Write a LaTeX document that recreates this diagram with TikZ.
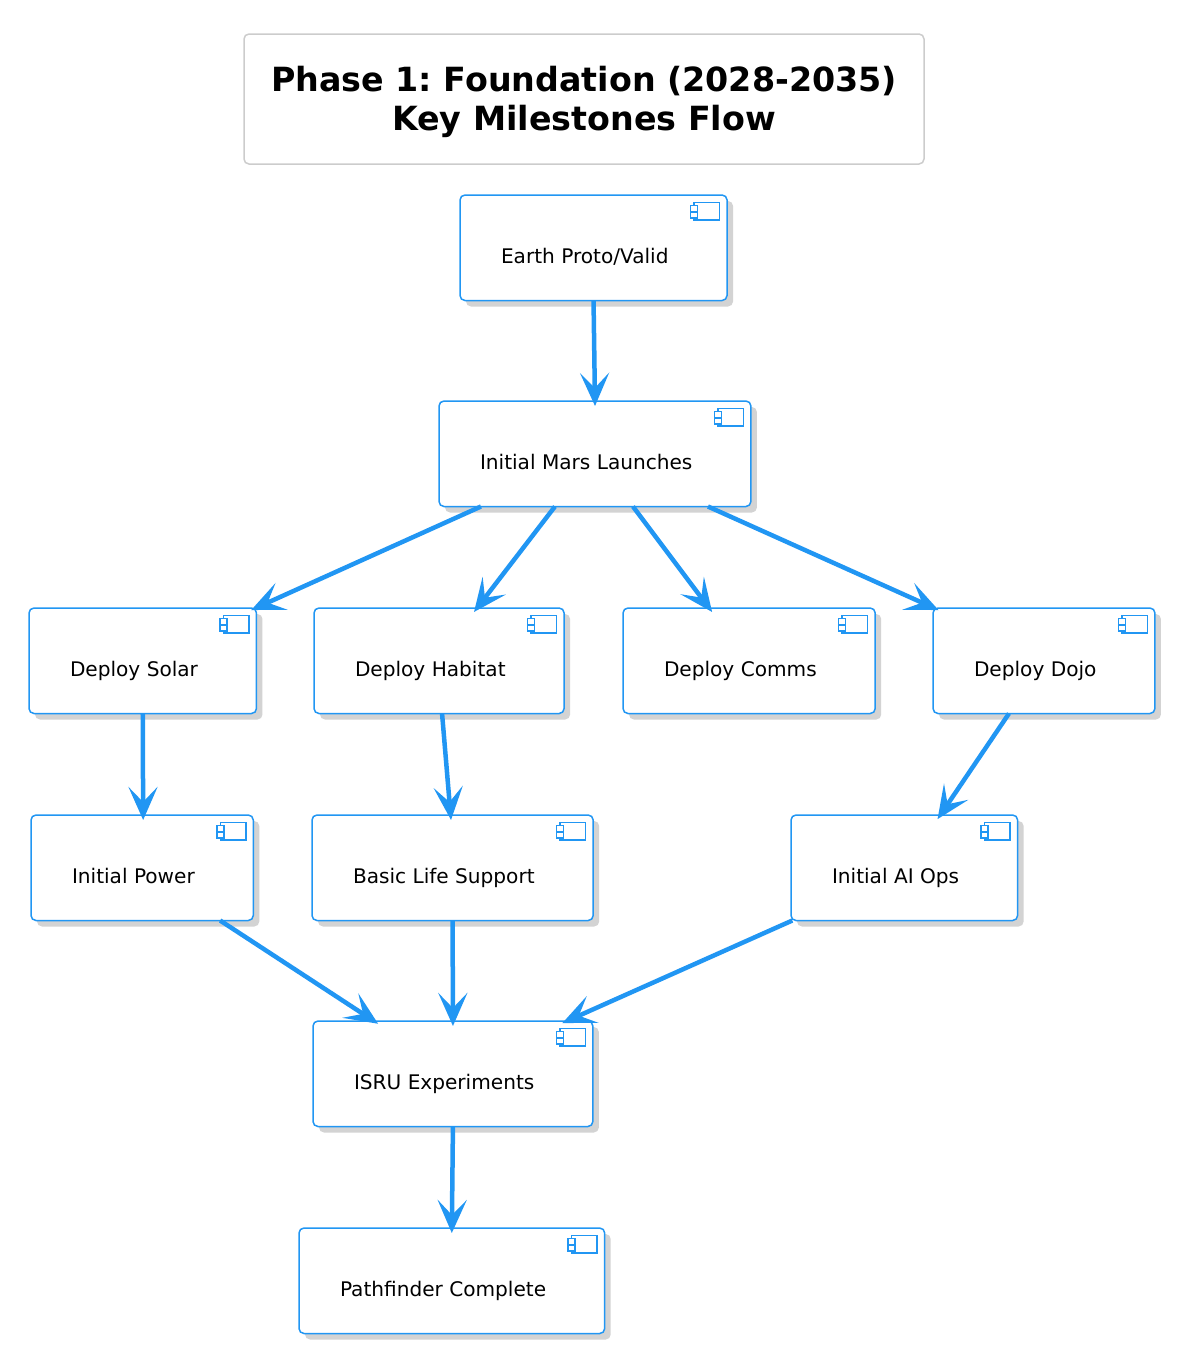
\documentclass[tikz,border=0pt]{standalone}
\usepackage{fontspec}
\setmainfont{DejaVu Sans}
\usetikzlibrary{arrows.meta,shadows}
\frenchspacing

\definecolor{compblue}{HTML}{2196F3}
\definecolor{compshadow}{HTML}{D3D3D3}
\definecolor{titleline}{HTML}{CCCCCC}

\tikzset{
	comp/.style={draw=compblue, line width=1.5pt, fill=white, rounded corners=5pt, anchor=north west, outer sep=0pt,
		inner xsep=41pt, inner ysep=10pt, text height=58pt, text depth=27.5pt,
		font=\fontsize{20.1}{24}\selectfont, execute at end node={\hspace{17.5pt}},
		drop shadow={shadow xshift=6pt, shadow yshift=-6pt, fill=compshadow, opacity=1}},
	flow/.style={draw=compblue, line width=4.5pt, -{Stealth[length=33pt, width=29pt, inset=15pt]}, shorten >=-5pt},
	compicon/.pic={
		\draw[compblue, line width=1.5pt, fill=white] (-33,7.5) rectangle (-7.5,25);
		\draw[compblue, line width=1.5pt, fill=white] (-36.5,10.5) rectangle (-29.5,16.5);
		\draw[compblue, line width=1.5pt, fill=white] (-36.5,17) rectangle (-29.5,23);
	}
}

\begin{document}
\begin{tikzpicture}[x=1pt, y=-1pt]
	\useasboundingbox (0,0) rectangle (1181,1360);

	\node[draw=titleline, line width=1.5pt, rounded corners=5pt, outer sep=0pt, minimum width=680pt, minimum height=130pt, align=center, font=\fontsize{33.3}{39}\selectfont\bfseries] (title) at (584,99) {\rule{0pt}{31pt}Phase 1: Foundation (2028-2035)\\Key Milestones Flow};

	\node[comp] (earth) at (460,195) {Earth Proto/Valid};
	\node[comp] (mars) at (439,401) {Initial Mars Launches};
	\node[comp] (solar) at (29,608) {Deploy Solar};
	\node[comp] (habitat) at (314,608) {Deploy Habitat};
	\node[comp] (comms) at (623,608) {Deploy Comms};
	\node[comp] (dojo) at (933,608) {Deploy Dojo};
	\node[comp] (power) at (31,815) {Initial Power};
	\node[comp] (life) at (312,815) {Basic Life Support};
	\node[comp] (aiops) at (791,815) {Initial AI Ops};
	\node[comp] (isru) at (313,1021) {ISRU Experiments};
	\node[comp] (pathf) at (299,1228) {Pathfinder Complete};

	\pic at (earth.north east) {compicon};
	\pic at (mars.north east) {compicon};
	\pic at (solar.north east) {compicon};
	\pic at (habitat.north east) {compicon};
	\pic at (comms.north east) {compicon};
	\pic at (dojo.north east) {compicon};
	\pic at (power.north east) {compicon};
	\pic at (life.north east) {compicon};
	\pic at (aiops.north east) {compicon};
	\pic at (isru.north east) {compicon};
	\pic at (pathf.north east) {compicon};

	\draw[flow] (earth.south) -- (mars.north);
	\draw[flow] ([xshift=-114pt]mars.south) -- ([xshift=113pt]solar.north);
	\draw[flow] ([xshift=-40pt]mars.south) -- ([xshift=38pt]habitat.north);
	\draw[flow] ([xshift=38pt]mars.south) -- ([xshift=-40pt]comms.north);
	\draw[flow] ([xshift=113pt]mars.south) -- ([xshift=-110pt]dojo.north);
	\draw[flow] (solar.south) -- ([xshift=1pt]power.north);
	\draw[flow] ([xshift=3pt]habitat.south) -- ([xshift=-2pt]life.north);
	\draw[flow] ([xshift=-35pt]dojo.south) -- ([xshift=36pt]aiops.north);
	\draw[flow] ([xshift=78pt]power.south) -- ([xshift=-79pt]isru.north);
	\draw[flow] (life.south) -- (isru.north);
	\draw[flow] ([xshift=-112pt]aiops.south) -- ([xshift=114pt]isru.north);
	\draw[flow] (isru.south) -- (pathf.north);
\end{tikzpicture}
\end{document}
